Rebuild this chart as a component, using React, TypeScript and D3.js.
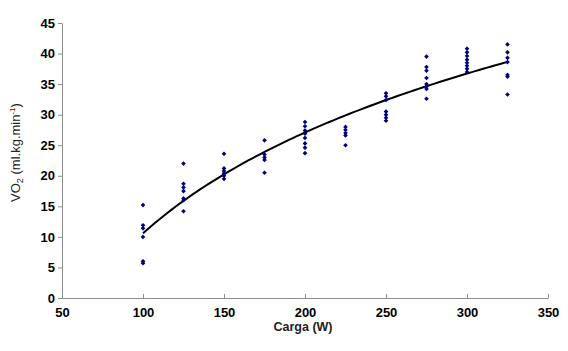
import React, { useEffect, useRef } from 'react';
import * as d3 from 'd3';

// Carga (W) levels and VO2 readings at each one
const loads = [100, 125, 150, 175, 200, 225, 250, 275, 300, 325];
const vo2 = [
  [15.2, 11.9, 11.4, 10.0, 6.0, 5.7],
  [22.0, 18.7, 18.1, 17.5, 16.3, 16.0, 14.2],
  [23.6, 21.2, 20.8, 20.4, 20.0, 19.5],
  [25.8, 23.5, 23.0, 22.6, 20.5],
  [28.8, 28.1, 27.4, 26.9, 26.2, 25.3, 24.6, 23.7],
  [28.0, 27.5, 27.0, 26.6, 25.0],
  [33.5, 33.0, 32.4, 30.5, 30.0, 29.5, 29.0],
  [39.5, 37.8, 37.2, 36.0, 35.0, 34.6, 34.2, 32.6],
  [40.8, 40.2, 39.6, 39.0, 38.5, 38.0, 37.5, 37.0],
  [41.5, 40.2, 39.3, 38.6, 36.5, 36.2, 33.3],
];
const xTicks = [50, 100, 150, 200, 250, 300, 350];
const yTicks = [0, 5, 10, 15, 20, 25, 30, 35, 40, 45];

const App = () => {
  const ref = useRef<SVGSVGElement>(null);

  useEffect(() => {
    const width = 568;
    const height = 351;
    const svg = d3.select(ref.current);
    svg.selectAll('*').remove();

    const x = d3.scaleLinear().domain([50, 350]).range([62, 548]);
    const y = d3.scaleLinear().domain([0, 45]).range([298, 23]);

    const points = loads.flatMap((l, i) => vo2[i].map(v => ({ load: l, v })));

    // logarithmic trend line fitted to the points
    const lx = points.map(p => Math.log(p.load));
    const mx = d3.mean(lx)!;
    const my = d3.mean(points, p => p.v)!;
    const a = d3.sum(points, (p, i) => (lx[i] - mx) * (p.v - my)) /
      d3.sum(lx, v => (v - mx) * (v - mx));
    const b = my - a * mx;

    const axisColor = '#8c8c8c';
    const font = 'Arial, "Liberation Sans", sans-serif';

    // axes
    const gy = svg.append('g').attr('transform', `translate(${x(50)},0)`)
      .call(d3.axisLeft(y).tickValues(yTicks).tickSize(4).tickSizeOuter(0).tickPadding(3));
    const gx = svg.append('g').attr('transform', `translate(0,${y(0)})`)
      .call(d3.axisBottom(x).tickValues(xTicks).tickSize(-4).tickSizeOuter(0).tickPadding(10));

    [gy, gx].forEach(g => {
      g.select('.domain').attr('stroke', axisColor);
      g.selectAll('.tick line').attr('stroke', axisColor);
      g.selectAll('.tick text')
        .attr('fill', '#000')
        .style('font-family', font)
        .style('font-size', '13px')
        .style('font-weight', 'bold');
    });

    // trend curve
    const xs = d3.range(100, 325.5, 2.5);
    svg.append('path')
      .datum(xs)
      .attr('fill', 'none')
      .attr('stroke', '#000')
      .attr('stroke-width', 2)
      .attr('d', d3.line<number>().x(d => x(d)).y(d => y(a * Math.log(d) + b)));

    // scatter points
    svg.selectAll('path.pt')
      .data(points)
      .enter()
      .append('path')
      .attr('class', 'pt')
      .attr('d', d3.symbol(d3.symbolDiamond2, 14)())
      .attr('transform', d => `translate(${x(d.load)},${y(d.v)})`)
      .attr('fill', '#00007a');

    // axis titles
    svg.append('text')
      .attr('x', 303)
      .attr('y', 331)
      .attr('text-anchor', 'middle')
      .style('font-family', font)
      .style('font-size', '12.5px')
      .style('font-weight', 'bold')
      .attr('fill', '#222')
      .text('Carga (W)');

    const yt = svg.append('text')
      .attr('transform', `translate(20,${(y(0) + y(45)) / 2 - 8}) rotate(-90)`)
      .attr('text-anchor', 'middle')
      .style('font-family', font)
      .style('font-size', '13px')
      .attr('fill', '#222');
    yt.append('tspan').text('VO');
    yt.append('tspan').attr('dy', 3).style('font-size', '9px').text('2');
    yt.append('tspan').attr('dy', -3).text(' (ml.kg.min');
    yt.append('tspan').attr('dy', -5).style('font-size', '8px').text('-1');
    yt.append('tspan').attr('dy', 5).text(')');

    svg.attr('width', width).attr('height', height);
  }, []);

  return <svg ref={ref} width={568} height={351} style={{ position: 'absolute', left: 0, top: 0, background: '#fff' }} />;
};

export default App;
